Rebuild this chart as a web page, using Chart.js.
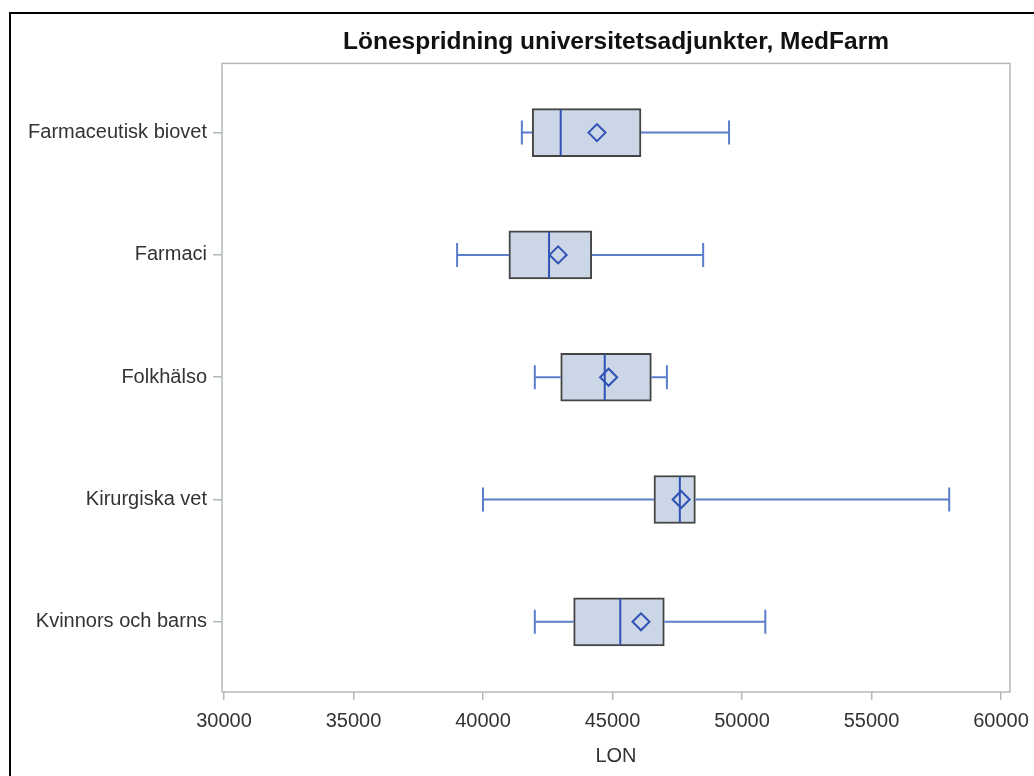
<!DOCTYPE html>
<html>
<head>
<meta charset="utf-8">
<script src="https://cdn.jsdelivr.net/npm/chart.js@4.4.1/dist/chart.umd.min.js"></script>
<style>
  html, body { margin: 0; padding: 0; background: #fff; }
  #wrap { position: relative; width: 1034px; height: 776px; }
  #frame { position: absolute; left: 9px; top: 12px; right: -10px; bottom: -10px;
           border-left: 2px solid #000; border-top: 2px solid #000; pointer-events: none; }
</style>
</head>
<body>
<div id="wrap">
  <canvas id="myChart" width="1034" height="776"></canvas>
  <div id="frame"></div>
</div>
<script>
// lönespridning per institution (box plot)
const categories = ['Farmaceutisk biovet', 'Farmaci', 'Folkhälso', 'Kirurgiska vet', 'Kvinnors och barns'];
const minValues    = [41500, 39000, 42000, 40000, 42000];
const q1Values     = [41900, 41000, 43000, 46600, 43500];
const medianValues = [43000, 42550, 44700, 47600, 45300];
const meanValues   = [44400, 42900, 44850, 47650, 46100];
const q3Values     = [46100, 44200, 46500, 48200, 47000];
const maxValues    = [49500, 48500, 47100, 58000, 50900];
const xTicks = [30000, 35000, 40000, 45000, 50000, 55000, 60000];

const FONT = "'Liberation Sans', Arial, sans-serif";
const axisGray = '#b3b9bd';
const whiskerColor = '#5a7dcc';
const medianColor = '#2f52b6';

const boxPlugin = {
    id: 'boxParts',
    beforeDatasetsDraw(chart) {
        const a = chart.chartArea;
        const c = chart.ctx;
        c.save();
        c.strokeStyle = axisGray;
        c.lineWidth = 1.5;
        c.strokeRect(a.left, a.top, a.right - a.left, a.bottom - a.top);
        c.restore();
    },
    afterDatasetDraw(chart, args) {
        if (args.index !== 1) return;
        const x = chart.scales.x, y = chart.scales.y;
        const c = chart.ctx;
        c.save();
        c.lineWidth = 2;
        categories.forEach((cat, i) => {
            const yc = y.getPixelForValue(i);
            const xmin = x.getPixelForValue(minValues[i]);
            const xq1 = x.getPixelForValue(q1Values[i]);
            const xq3 = x.getPixelForValue(q3Values[i]);
            const xmax = x.getPixelForValue(maxValues[i]);
            c.strokeStyle = whiskerColor;
            c.beginPath();
            c.moveTo(xmin, yc); c.lineTo(xq1, yc);
            c.moveTo(xq3, yc); c.lineTo(xmax, yc);
            c.moveTo(xmin, yc - 12); c.lineTo(xmin, yc + 12);
            c.moveTo(xmax, yc - 12); c.lineTo(xmax, yc + 12);
            c.stroke();
            const xm = x.getPixelForValue(medianValues[i]);
            c.strokeStyle = medianColor;
            c.beginPath();
            c.moveTo(xm, yc - 23); c.lineTo(xm, yc + 23);
            c.stroke();
        });
        c.restore();
    }
};

const ctx = document.getElementById('myChart').getContext('2d');
const myChart = new Chart(ctx, {
    type: 'bar',
    data: {
        datasets: [{
            type: 'scatter',
            label: 'Medel',
            data: meanValues.map((v, i) => ({x: v, y: i})),
            pointStyle: 'rectRot',
            pointRadius: 8.5,
            borderColor: medianColor,
            borderWidth: 2,
            backgroundColor: 'rgba(0,0,0,0)'
        }, {
            label: 'LON',
            indexAxis: 'y',
            data: q1Values.map((v, i) => ({x: [v, q3Values[i]], y: i})),
            backgroundColor: '#cbd6e6',
            borderColor: '#444',
            borderWidth: 2,
            borderSkipped: false,
            barThickness: 48
        }]
    },
    options: {
        responsive: false,
        animation: false,
        indexAxis: 'y',
        layout: { padding: { left: 0, right: 24, top: 0, bottom: 0 } },
        plugins: {
            legend: { display: false },
            tooltip: { enabled: false },
            title: {
                display: true,
                fullSize: false,
                text: 'Lönespridning universitetsadjunkter, MedFarm',
                color: '#111',
                font: { family: FONT, size: 24.5, weight: 'bold' },
                padding: { top: 28, bottom: 6 }
            }
        },
        scales: {
            x: {
                type: 'linear',
                offset: false,
                min: 29923,
                max: 60347,
                afterBuildTicks: s => { s.ticks = xTicks.map(v => ({value: v})); },
                afterFit: s => { s.paddingLeft = 0; s.paddingRight = 0; },
                ticks: {
                    callback: v => String(v),
                    color: '#333',
                    font: { family: FONT, size: 20 },
                    padding: 9,
                    maxRotation: 0
                },
                grid: { drawOnChartArea: false, drawTicks: true, tickLength: 8, color: axisGray, lineWidth: 1.5, offset: false },
                border: { display: false },
                title: {
                    display: true,
                    text: 'LON',
                    color: '#333',
                    font: { family: FONT, size: 20 },
                    padding: { top: 2, bottom: 8 }
                }
            },
            y: {
                type: 'linear',
                offset: false,
                reverse: true,
                min: -0.566,
                max: 4.574,
                afterBuildTicks: s => { s.ticks = categories.map((c, i) => ({value: i})); },
                afterFit: s => { s.width = 222; },
                ticks: {
                    callback: v => categories[v],
                    color: '#333',
                    font: { family: FONT, size: 20 },
                    padding: 6
                },
                grid: { drawOnChartArea: false, drawTicks: true, tickLength: 9, color: axisGray, lineWidth: 1.5, offset: false },
                border: { display: false }
            }
        }
    },
    plugins: [boxPlugin]
});
</script>
</body>
</html>
